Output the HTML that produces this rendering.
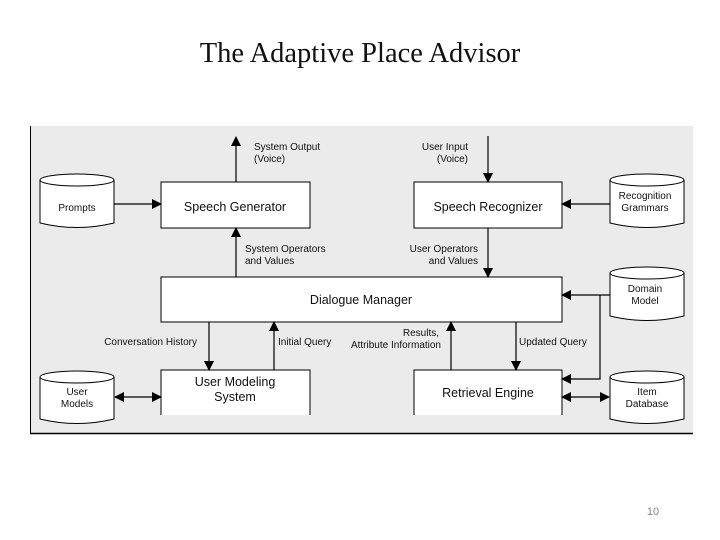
<!DOCTYPE html>
<html><head><meta charset="utf-8"><style>
html,body{margin:0;padding:0;background:#fff;width:720px;height:540px;overflow:hidden}
svg{display:block}
text{font-family:"Liberation Sans",sans-serif;fill:#111}
</style></head><body>
<svg width="720" height="540" viewBox="0 0 720 540" xmlns="http://www.w3.org/2000/svg">
<defs>
<marker id="a" markerWidth="10" markerHeight="10" refX="9" refY="5" orient="auto" markerUnits="userSpaceOnUse"><path d="M0,0 L10,5 L0,10 z" fill="#000"/></marker>
<marker id="s" markerWidth="10" markerHeight="10" refX="1" refY="5" orient="auto" markerUnits="userSpaceOnUse"><path d="M10,0 L0,5 L10,10 z" fill="#000"/></marker>
</defs>
<text x="360" y="62" text-anchor="middle" style="font-family:'Liberation Serif',serif;font-size:28.5px">The Adaptive Place Advisor</text>
<rect x="30" y="126" width="663" height="308" fill="#ebebeb"/>
<line x1="30.5" y1="126" x2="30.5" y2="434" stroke="#000"/>
<line x1="30" y1="433.5" x2="693" y2="433.5" stroke="#000" stroke-width="1.5"/>
<g fill="#fff" stroke="#000" stroke-width="1">
<rect x="161" y="182" width="149" height="46"/>
<rect x="414" y="182" width="148" height="46"/>
<rect x="161" y="277" width="401" height="45"/>
<path d="M161,415 V370 H310 V415"/>
<path d="M414,415 V370 H562 V415"/>
</g>
<g fill="#fff" stroke="#000">
<path d="M40,180 V223 Q77,232 114,223 V180"/><ellipse cx="77" cy="180" rx="37" ry="6"/>
<path d="M610,180 V223 Q647,232 684,223 V180"/><ellipse cx="647" cy="180" rx="37" ry="6"/>
<path d="M610,273 V316 Q647,325 684,316 V273"/><ellipse cx="647" cy="273" rx="37" ry="6"/>
<path d="M40,377 V419 Q77,428 114,419 V377"/><ellipse cx="77" cy="377" rx="37" ry="6"/>
<path d="M610,377 V419 Q647,428 684,419 V377"/><ellipse cx="647" cy="377" rx="37" ry="6"/>
</g>
<g stroke="#000" stroke-width="1.2" fill="none">
<line x1="236" y1="182" x2="236" y2="137" marker-end="url(#a)"/>
<line x1="488" y1="136" x2="488" y2="182" marker-end="url(#a)"/>
<line x1="236" y1="277" x2="236" y2="228" marker-end="url(#a)"/>
<line x1="488" y1="228" x2="488" y2="277" marker-end="url(#a)"/>
<line x1="114" y1="204" x2="161" y2="204" marker-end="url(#a)"/>
<line x1="610" y1="204" x2="562" y2="204" marker-end="url(#a)"/>
<line x1="610" y1="295" x2="562" y2="295" marker-end="url(#a)"/>
<polyline points="600,295 600,379 562,379" marker-end="url(#a)"/>
<line x1="209" y1="322" x2="209" y2="370" marker-end="url(#a)"/>
<line x1="274" y1="370" x2="274" y2="322" marker-end="url(#a)"/>
<line x1="451" y1="370" x2="451" y2="322" marker-end="url(#a)"/>
<line x1="516" y1="322" x2="516" y2="370" marker-end="url(#a)"/>
<line x1="115" y1="397" x2="161" y2="397" marker-start="url(#s)" marker-end="url(#a)"/>
<line x1="562" y1="397" x2="609" y2="397" marker-start="url(#s)" marker-end="url(#a)"/>
</g>
<g font-size="12.5" text-anchor="middle">
<text x="235" y="211">Speech Generator</text>
<text x="488" y="211">Speech Recognizer</text>
<text x="361" y="304">Dialogue Manager</text>
<text x="235" y="386">User Modeling</text>
<text x="235" y="401">System</text>
<text x="488" y="397">Retrieval Engine</text>
</g>
<g font-size="10">
<text x="77" y="211" text-anchor="middle">Prompts</text>
<text x="645" y="199" text-anchor="middle">Recognition</text>
<text x="645" y="211" text-anchor="middle">Grammars</text>
<text x="645" y="292" text-anchor="middle">Domain</text>
<text x="645" y="304" text-anchor="middle">Model</text>
<text x="77" y="395" text-anchor="middle">User</text>
<text x="77" y="407" text-anchor="middle">Models</text>
<text x="647" y="395" text-anchor="middle">Item</text>
<text x="647" y="407" text-anchor="middle">Database</text>
<text x="254" y="150">System Output</text>
<text x="254" y="162">(Voice)</text>
<text x="468" y="150" text-anchor="end">User Input</text>
<text x="468" y="162" text-anchor="end">(Voice)</text>
<text x="245" y="252">System Operators</text>
<text x="245" y="264">and Values</text>
<text x="478" y="252" text-anchor="end">User Operators</text>
<text x="478" y="264" text-anchor="end">and Values</text>
<text x="197" y="345" text-anchor="end">Conversation History</text>
<text x="278" y="345">Initial Query</text>
<text x="439" y="336" text-anchor="end">Results,</text>
<text x="441" y="348" text-anchor="end">Attribute Information</text>
<text x="519" y="345">Updated Query</text>
</g>
<text x="653" y="515" text-anchor="middle" font-size="11" style="fill:#888">10</text>
</svg>
</body></html>
